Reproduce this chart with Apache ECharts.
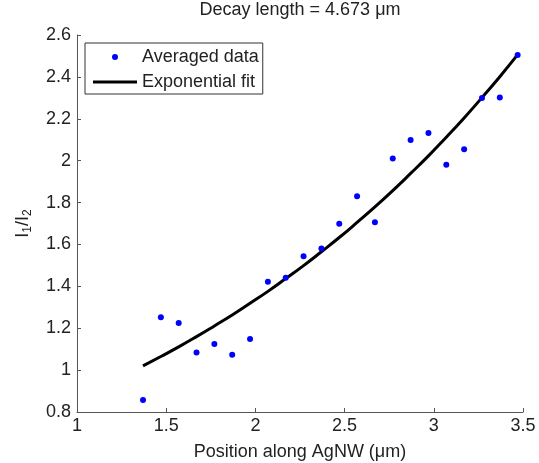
<!DOCTYPE html>
<html>
<head>
<meta charset="utf-8">
<script src="https://cdn.jsdelivr.net/npm/echarts@6/dist/echarts.min.js"></script>
<style>
html,body{margin:0;padding:0;background:#fff;}
#c{width:539px;height:463px;}
</style>
</head>
<body>
<div id="c"></div>
<script>
// Positions along the nanowire (µm)
var positions = [1.37,1.47,1.57,1.67,1.77,1.87,1.97,2.07,2.17,2.27,2.37,2.47,2.57,2.67,2.77,2.87,2.97,3.07,3.17,3.27,3.37,3.47];
// Averaged intensity ratio I1/I2
var averaged = [0.857,1.252,1.225,1.084,1.125,1.073,1.149,1.422,1.441,1.544,1.581,1.699,1.830,1.706,2.010,2.099,2.132,1.980,2.054,2.299,2.301,2.505];
// Exponential fit values
var fitValues = [1.020,1.065,1.111,1.160,1.211,1.263,1.319,1.376,1.437,1.499,1.565,1.633,1.705,1.779,1.857,1.939,2.023,2.112,2.204,2.301,2.401,2.506];
var xTicks = {min:1, max:3.5, interval:0.5};
var yTicks = {min:0.8, max:2.6, interval:0.2};
var titleText = 'Decay length = 4.673 \u03bcm';
var xName = 'Position along AgNW (\u03bcm)';

var FONT = '"Liberation Sans", Arial, sans-serif';
var TXT = '#222';
var AX = '#555';

function pairs(xs, ys){ return xs.map(function(x,i){ return [x, ys[i]]; }); }
function fmt(v){ return String(parseFloat(v.toFixed(1))); }

var chart = echarts.init(document.getElementById('c'), null, {renderer:'canvas'});
chart.setOption({
  backgroundColor:'#fff',
  animation:false,
  title:{
    text:titleText,
    left:300, top:1, textAlign:'center', padding:0,
    textStyle:{fontFamily:FONT, fontSize:18, fontWeight:'normal', color:TXT}
  },
  legend:{
    left:85, top:43, orient:'vertical',
    padding:[5,4,3,8], itemGap:7, itemWidth:44, itemHeight:6,
    borderColor:'#333', borderWidth:1, backgroundColor:'#fff',
    symbolKeepAspect:true,
    textStyle:{fontFamily:FONT, fontSize:18, color:TXT},
    data:[
      {name:'Averaged data', icon:'circle'},
      {name:'Exponential fit', icon:'path://M0,0h44v3h-44z'}
    ]
  },
  grid:{left:77, right:16, top:35, bottom:51, containLabel:false, outerBoundsMode:'none'},
  xAxis:{
    type:'value', min:xTicks.min, max:xTicks.max, interval:xTicks.interval,
    name:xName, nameLocation:'middle', nameGap:31,
    nameTextStyle:{fontFamily:FONT, fontSize:18, color:TXT},
    axisLine:{lineStyle:{color:AX, width:1}},
    axisTick:{inside:true, length:4, lineStyle:{color:AX}},
    axisLabel:{fontFamily:FONT, fontSize:18, color:TXT, margin:5, formatter:fmt},
    splitLine:{show:false}
  },
  yAxis:{
    type:'value', min:yTicks.min, max:yTicks.max, interval:yTicks.interval,
    name:'I{s|1}/I{s|2}', nameLocation:'middle', nameGap:43, nameRotate:90,
    nameTextStyle:{fontFamily:FONT, fontSize:18, color:TXT, lineHeight:22,
      rich:{s:{fontFamily:FONT, fontSize:12, color:TXT, lineHeight:22, verticalAlign:'bottom', padding:[8,0,0,0]}}},
    axisLine:{show:true, lineStyle:{color:AX, width:1}},
    axisTick:{show:true, inside:true, length:4, lineStyle:{color:AX}},
    axisLabel:{fontFamily:FONT, fontSize:18, color:TXT, margin:6, formatter:fmt},
    splitLine:{show:false}
  },
  series:[
    {
      name:'Averaged data', type:'scatter',
      data:pairs(positions, averaged),
      symbol:'circle', symbolSize:6,
      itemStyle:{color:'#0000ff', opacity:1}, z:3
    },
    {
      name:'Exponential fit', type:'line',
      data:pairs(positions, fitValues),
      showSymbol:false, symbol:'none', smooth:true,
      lineStyle:{color:'#000', width:3},
      itemStyle:{color:'#000', opacity:1}, z:2
    }
  ]
});
</script>
</body>
</html>
